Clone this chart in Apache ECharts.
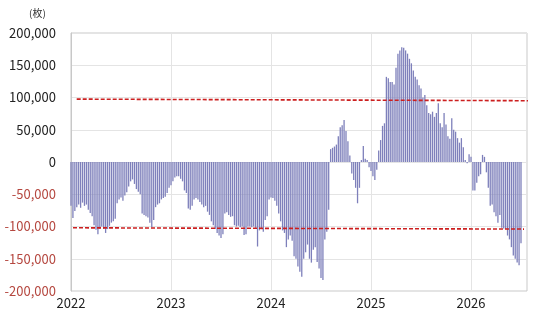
<!DOCTYPE html>
<html><head><meta charset="utf-8">
<script src="https://cdn.jsdelivr.net/npm/echarts@6/dist/echarts.min.js"></script>
<style>html,body{margin:0;padding:0;background:#fff}#c{width:540px;height:321px}</style>
</head><body><div id="c"></div>
<script>
// weekly values (枚), first week of 2022 onwards
const values = [
-68000,-87000,-76000,-70000,-66000,-71000,-63000,-68000,-66000,-74000,-79000,-84000,-98000,-105000,-112000,-104000,-100000,-104000,-110000,-104000,
-99000,-94000,-92000,-88000,-64000,-58000,-55000,-60000,-52000,-47000,-38000,-30000,-27000,-34000,-42000,-46000,-50000,-80000,-82000,-84000,
-86000,-94000,-101000,-90000,-70000,-66000,-64000,-58000,-56000,-54000,-48000,-40000,
-36000,-30000,-24000,-22000,-22000,-26000,-30000,-44000,-48000,-72000,-74000,-68000,-58000,-56000,-58000,-62000,-66000,-70000,-68000,-77000,
-82000,-92000,-98000,-104000,-110000,-114000,-118000,-112000,-80000,-78000,-82000,-85000,-84000,-98000,-100000,-99000,-101000,-100000,-113000,-112000,
-100000,-100000,-101000,-100000,-102000,-131000,-106000,-104000,-108000,-90000,-84000,-58000,
-55000,-56000,-60000,-68000,-80000,-92000,-106000,-110000,-132000,-120000,-114000,-122000,-146000,-150000,-162000,-170000,-178000,-150000,-140000,-128000,
-150000,-156000,-136000,-132000,-155000,-165000,-180000,-183000,-120000,-108000,-74000,20000,22000,24000,27000,40000,54000,57000,65000,48000,
32000,10000,-18000,-28000,-40000,-64000,-40000,3000,25000,5000,3000,-8000,
-14000,-22000,-28000,-12000,18000,34000,56000,60000,132000,130000,124000,124000,120000,146000,168000,173000,178000,177000,173000,168000,
160000,153000,142000,132000,128000,119000,114000,100000,104000,88000,76000,74000,78000,70000,76000,91000,60000,54000,76000,58000,
40000,36000,68000,50000,47000,37000,30000,37000,23000,3000,-2000,12000,
8000,-44000,-44000,-32000,-22000,-19000,11000,8000,-16000,-40000,-68000,-66000,-78000,-84000,-94000,-82000,-102000,-103000,-104000,-114000,
-120000,-132000,-145000,-150000,-156000,-160000,-126000
];
const startYear = 2022;
const weeksPerYear = 52;
const yearTicks = [2022, 2023, 2024, 2025, 2026];
const upperLine = [[2022.057, 97500], [2026.57, 95000]];
const lowerLine = [[2022.02, -102000], [2026.53, -104000]];
const unitLabel = '(枚)';

const barData = values.map((v, i) => [startYear + i / weeksPerYear, v]);
const fmt = v => (v < 0 ? '-' : '') + Math.abs(v).toString().replace(/\B(?=(\d{3})+(?!\d))/g, ',');

const chart = echarts.init(document.getElementById('c'), null, {renderer: 'canvas'});
chart.setOption({
  animation: false,
  backgroundColor: '#fff',
  textStyle: {fontFamily: '"Noto Sans CJK JP", "Noto Sans", sans-serif'},
  title: {text: unitLabel, left: 24, top: 3, textStyle: {fontSize: 10, fontWeight: 'normal', color: '#333', fontFamily: '"Noto Sans CJK JP", sans-serif'}},
  grid: {left: 71, top: 33, width: 456, height: 258, show: true, borderColor: '#c8c8c8', borderWidth: 1},
  xAxis: {
    type: 'value', min: 2022, max: 2026.56, interval: 1,
    axisLine: {show: false}, axisTick: {show: false},
    splitLine: {show: true, lineStyle: {color: '#e4e4e4', width: 1}},
    axisLabel: {fontSize: 13, color: '#222', margin: 6, showMaxLabel: false,
      formatter: v => yearTicks.includes(Math.round(v)) && Math.abs(v - Math.round(v)) < 1e-6 ? String(Math.round(v)) : ''}
  },
  yAxis: {
    type: 'value', min: -200000, max: 200000, interval: 50000,
    axisLine: {show: true, lineStyle: {color: '#c8c8c8'}}, axisTick: {show: false},
    splitLine: {show: true, lineStyle: {color: '#e4e4e4', width: 1}},
    axisLabel: {fontSize: 13, margin: 15, formatter: fmt, color: v => (v < 0 ? '#b5473f' : '#222')}
  },
  series: [
    {type: 'bar', data: barData, barWidth: 1.3, itemStyle: {color: '#7e80bb'}, z: 2},
    {type: 'line', data: upperLine, symbol: 'none', z: 3,
      lineStyle: {color: '#cc1f1f', width: 1.6, type: [4, 2]}},
    {type: 'line', data: lowerLine, symbol: 'none', z: 3,
      lineStyle: {color: '#cc1f1f', width: 1.6, type: [4, 2]}}
  ]
});
</script></body></html>
